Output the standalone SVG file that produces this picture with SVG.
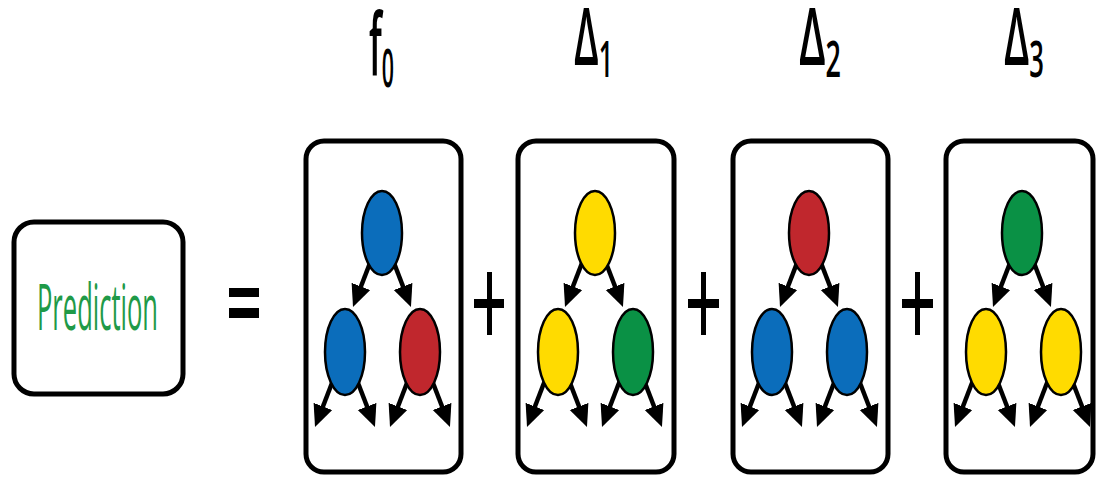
<svg xmlns="http://www.w3.org/2000/svg" xmlns:xlink="http://www.w3.org/1999/xlink" width="1097" height="478" viewBox="0 0 1097 478">
<style>
.frame{fill:#fff;stroke:#000;stroke-width:5}
.lbl{font-family:"Open Sans","Liberation Sans",sans-serif;fill:#000;font-weight:600}
.node{stroke:#000;stroke-width:2.5}
.blue{fill:#0b6dbb}
.red{fill:#c0272d}
.yellow{fill:#ffdb00}
.green{fill:#0a9145}
.arr{stroke:#000;stroke-width:4.5;fill:none;marker-end:url(#ah)}
.sym{fill:#000}
</style>
<defs>
<marker id="ah" markerUnits="userSpaceOnUse" markerWidth="24" markerHeight="22" refX="4" refY="10" orient="auto" viewBox="0 0 24 22">
<path d="M0,0 L22,10 L0,20 Z" fill="#000"/>
</marker>
<g id="arrows">
<line class="arr" x1="69" y1="250" x2="53.5" y2="290.2"/>
<line class="arr" x1="83" y1="250" x2="98.5" y2="290.2"/>
<line class="arr" x1="31" y1="370" x2="15.5" y2="410.2"/>
<line class="arr" x1="47" y1="370" x2="62.5" y2="410.2"/>
<line class="arr" x1="106" y1="370" x2="90.5" y2="410.2"/>
<line class="arr" x1="122" y1="370" x2="137.5" y2="410.2"/>
</g>
</defs>
<rect width="1097" height="478" fill="#fff"/>

<g id="prediction">
<rect class="frame" x="14" y="222" width="169" height="172" rx="20"/>
<text x="37" y="330" font-family="Open Sans, Liberation Sans, sans-serif" font-size="64" fill="#1f9a48" textLength="121" lengthAdjust="spacingAndGlyphs">Prediction</text>
</g>

<g id="equals">
<rect class="sym" x="229" y="288" width="30" height="9"/>
<rect class="sym" x="229" y="308" width="30" height="10"/>
</g>

<g id="labels">
<text class="lbl" x="369" y="75" font-size="86" textLength="25" lengthAdjust="spacingAndGlyphs">f<tspan font-size="52" dy="12">0</tspan></text>
<text class="lbl" x="574" y="65" font-size="80" textLength="39" lengthAdjust="spacingAndGlyphs">Δ<tspan font-size="50" dy="12">1</tspan></text>
<text class="lbl" x="799" y="65" font-size="80" textLength="42" lengthAdjust="spacingAndGlyphs">Δ<tspan font-size="50" dy="12">2</tspan></text>
<text class="lbl" x="1004" y="65" font-size="80" textLength="40" lengthAdjust="spacingAndGlyphs">Δ<tspan font-size="50" dy="12">3</tspan></text>
</g>

<g id="plus1">
<rect class="sym" x="487" y="272" width="5" height="63"/>
<rect class="sym" x="474" y="299" width="30" height="9"/>
</g>
<g id="plus2">
<rect class="sym" x="701" y="272" width="5" height="63"/>
<rect class="sym" x="688" y="299" width="31" height="9"/>
</g>
<g id="plus3">
<rect class="sym" x="915" y="272" width="5" height="63"/>
<rect class="sym" x="902" y="299" width="31" height="9"/>
</g>

<g id="frame-f0"><rect class="frame" x="306" y="141" width="155" height="331" rx="18"/></g>
<g id="frame-d1"><rect class="frame" x="518" y="141" width="156" height="331" rx="18"/></g>
<g id="frame-d2"><rect class="frame" x="733" y="141" width="155" height="331" rx="18"/></g>
<g id="frame-d3"><rect class="frame" x="946" y="141" width="147" height="331" rx="18"/></g>

<g id="connectors">
<use xlink:href="#arrows" x="306"/>
<use xlink:href="#arrows" x="518"/>
<use xlink:href="#arrows" x="733"/>
<use xlink:href="#arrows" x="946"/>
</g>

<g id="tree-f0">
<ellipse id="f0-root" class="node blue" cx="382" cy="233" rx="20" ry="42"/>
<ellipse id="f0-left" class="node blue" cx="345" cy="352" rx="20" ry="43"/>
<ellipse id="f0-right" class="node red" cx="420" cy="352" rx="20" ry="43"/>
</g>
<g id="tree-d1">
<ellipse id="d1-root" class="node yellow" cx="595" cy="233" rx="20" ry="42"/>
<ellipse id="d1-left" class="node yellow" cx="558" cy="352" rx="20" ry="43"/>
<ellipse id="d1-right" class="node green" cx="633" cy="352" rx="20" ry="43"/>
</g>
<g id="tree-d2">
<ellipse id="d2-root" class="node red" cx="809" cy="233" rx="20" ry="42"/>
<ellipse id="d2-left" class="node blue" cx="772" cy="352" rx="20" ry="43"/>
<ellipse id="d2-right" class="node blue" cx="847" cy="352" rx="20" ry="43"/>
</g>
<g id="tree-d3">
<ellipse id="d3-root" class="node green" cx="1022" cy="233" rx="20" ry="42"/>
<ellipse id="d3-left" class="node yellow" cx="986" cy="352" rx="20" ry="43"/>
<ellipse id="d3-right" class="node yellow" cx="1061" cy="352" rx="20" ry="43"/>
</g>
</svg>
